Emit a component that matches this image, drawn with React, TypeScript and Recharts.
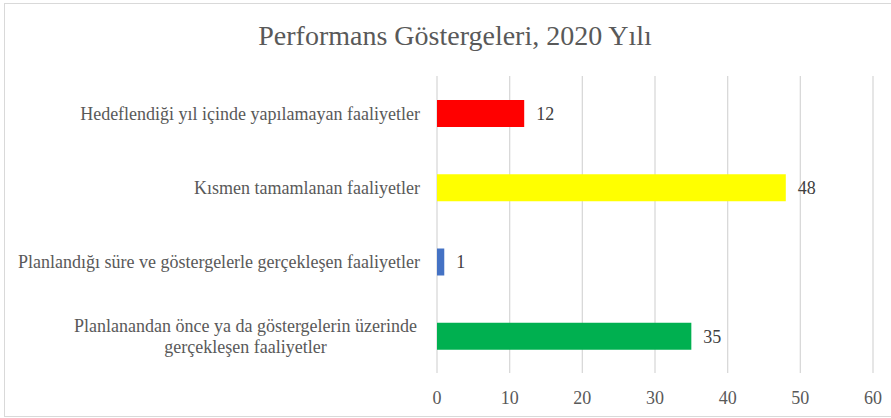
import React from 'react';
import { BarChart, Bar, XAxis, YAxis, CartesianGrid, Cell, LabelList } from 'recharts';

const categories = [
  'Hedeflendiği yıl içinde yapılamayan faaliyetler',
  'Kısmen tamamlanan faaliyetler',
  'Planlandığı süre ve göstergelerle gerçekleşen faaliyetler',
  'Planlanandan önce ya da göstergelerin üzerinde\ngerçekleşen faaliyetler',
];
const values = [12, 48, 1, 35];
const barColors = ['#ff0000', '#ffff00', '#4472c4', '#00b050'];
const xTicks = [0, 10, 20, 30, 40, 50, 60];

const FONT = "'Liberation Serif', 'Times New Roman', serif";

const data = categories.map((name, i) => ({ name, value: values[i] }));

let ctx: CanvasRenderingContext2D | null = null;
const measure = (text: string) => {
  if (!ctx) ctx = document.createElement('canvas').getContext('2d');
  if (!ctx) return text.length * 8;
  ctx.font = `18px ${FONT}`;
  return ctx.measureText(text).width;
};

const CategoryTick = ({ x, y, payload }: any) => {
  const lines: string[] = String(payload.value).split('\n');
  if (lines.length === 1) {
    return (
      <text x={x} y={y} dy="0.355em" textAnchor="end" fill="#595959" fontSize={18} style={{ fontFamily: FONT }}>
        {lines[0]}
      </text>
    );
  }
  const w = Math.max(...lines.map(measure));
  const cx = x - 3 - w / 2;
  const lh = 20.7;
  const start = -((lines.length - 1) * lh) / 2;
  return (
    <text x={cx} y={y} textAnchor="middle" fill="#595959" fontSize={18} style={{ fontFamily: FONT }}>
      {lines.map((l, i) => (
        <tspan key={i} x={cx} y={y + start + i * lh} dy="0.355em">
          {l}
        </tspan>
      ))}
    </text>
  );
};

export default function App() {
  return (
    <div style={{ position: 'absolute', left: 0, top: 0, width: 891, height: 418, background: '#fff', fontFamily: FONT }}>
      <svg width={891} height={418} style={{ position: 'absolute', left: 0, top: 0 }}>
        <rect x={4.5} y={3.5} width={890} height={413} fill="#fff" stroke="#d9d9d9" />
        <text x={455} y={45} textAnchor="middle" fill="#595959" fontSize={28} style={{ fontFamily: FONT }}>
          Performans Göstergeleri, 2020 Yılı
        </text>
      </svg>
      <div style={{ position: 'absolute', left: 0, top: 0 }}>
        <BarChart
          width={891}
          height={418}
          data={data}
          layout="vertical"
          margin={{ top: 76, right: 18, bottom: 15, left: 0 }}
          style={{ fontFamily: FONT }}
        >
          <CartesianGrid horizontal={false} stroke="#d9d9d9" strokeWidth={1.3} />
          <XAxis
            type="number"
            domain={[0, 60]}
            ticks={xTicks}
            axisLine={false}
            tickLine={false}
            tickMargin={12}
            height={30}
            tick={{ fill: '#595959', fontSize: 18, style: { fontFamily: FONT } }}
          />
          <YAxis
            type="category"
            dataKey="name"
            width={437}
            axisLine={false}
            tickLine={false}
            tickMargin={11}
            tick={<CategoryTick />}
            interval={0}
          />
          <Bar dataKey="value" barSize={27} isAnimationActive={false}>
            {data.map((d, i) => (
              <Cell key={d.name} fill={barColors[i]} />
            ))}
            <LabelList
              dataKey="value"
              position="right"
              offset={12}
              fill="#404040"
              fontSize={18}
              style={{ fontFamily: FONT }}
            />
          </Bar>
        </BarChart>
      </div>
    </div>
  );
}
